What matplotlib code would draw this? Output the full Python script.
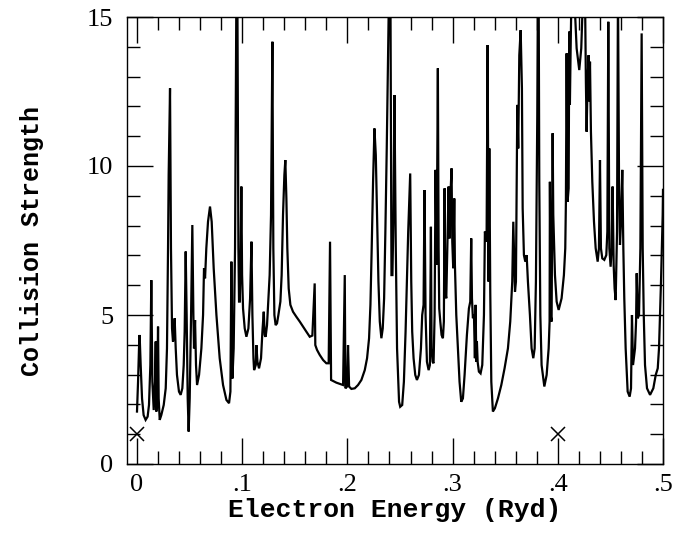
import matplotlib
matplotlib.use("Agg")
import matplotlib.pyplot as plt
from matplotlib.ticker import MultipleLocator, FixedLocator, FixedFormatter

energy = [
    0.0000, 0.0010, 0.0019, 0.0025, 0.0035, 0.0048, 0.0063, 0.0082, 0.0101, 0.0114,
    0.0127, 0.0136, 0.0146, 0.0159, 0.0171, 0.0178, 0.0184, 0.0193, 0.0200, 0.0206,
    0.0216, 0.0231, 0.0254, 0.0273, 0.0285, 0.0295, 0.0301, 0.0314, 0.0323, 0.0333,
    0.0342, 0.0352, 0.0358, 0.0368, 0.0380, 0.0399, 0.0415, 0.0431, 0.0444, 0.0453,
    0.0463, 0.0472, 0.0482, 0.0491, 0.0501, 0.0514, 0.0526, 0.0536, 0.0542, 0.0552,
    0.0561, 0.0571, 0.0590, 0.0612, 0.0628, 0.0637, 0.0647, 0.0659, 0.0675, 0.0694,
    0.0710, 0.0729, 0.0755, 0.0786, 0.0818, 0.0850, 0.0875, 0.0888, 0.0897, 0.0904,
    0.0907, 0.0919, 0.0932, 0.0945, 0.0954, 0.0964, 0.0970, 0.0977, 0.0986, 0.0992,
    0.0999, 0.1008, 0.1024, 0.1040, 0.1059, 0.1075, 0.1088, 0.1097, 0.1107, 0.1113,
    0.1129, 0.1135, 0.1145, 0.1160, 0.1179, 0.1192, 0.1205,
    0.1214, 0.1223, 0.1236, 0.1249, 0.1261, 0.1274, 0.1287, 0.1296, 0.1306, 0.1318,
    0.1331, 0.1344, 0.1363, 0.1375, 0.1388, 0.1401, 0.1410, 0.1420, 0.1429, 0.1442,
    0.1458, 0.1483, 0.1515, 0.1547, 0.1578, 0.1610, 0.1642, 0.1667, 0.1689, 0.1695,
    0.1711, 0.1737, 0.1769, 0.1800, 0.1822, 0.1835, 0.1845, 0.1895, 0.1959, 0.1975,
    0.1981, 0.1997, 0.2006, 0.2016, 0.2038, 0.2070, 0.2101, 0.2133, 0.2165, 0.2187,
    0.2206, 0.2219, 0.2231, 0.2244, 0.2257, 0.2270, 0.2282, 0.2295, 0.2308, 0.2323,
    0.2336, 0.2349, 0.2361, 0.2374, 0.2387, 0.2396, 0.2409, 0.2419, 0.2428, 0.2438,
    0.2447, 0.2460, 0.2472, 0.2491,
    0.2502, 0.2521, 0.2537, 0.2553, 0.2565, 0.2578, 0.2588, 0.2597, 0.2607, 0.2616,
    0.2629, 0.2645, 0.2661, 0.2680, 0.2699, 0.2711, 0.2724, 0.2733, 0.2743, 0.2756,
    0.2772, 0.2784, 0.2794, 0.2800, 0.2810, 0.2819, 0.2829, 0.2838, 0.2848, 0.2854,
    0.2860, 0.2867, 0.2873, 0.2883, 0.2895, 0.2908, 0.2917, 0.2924, 0.2930, 0.2940,
    0.2952, 0.2962, 0.2971, 0.2981, 0.2990, 0.2997, 0.3006, 0.3016, 0.3022, 0.3035,
    0.3051, 0.3066, 0.3082, 0.3098, 0.3114, 0.3136, 0.3155, 0.3168, 0.3177, 0.3184,
    0.3193, 0.3203, 0.3212, 0.3219, 0.3225, 0.3231, 0.3238, 0.3250, 0.3266, 0.3282,
    0.3298, 0.3307, 0.3323, 0.3333, 0.3342, 0.3349, 0.3358, 0.3368, 0.3383, 0.3402,
    0.3431, 0.3463, 0.3494, 0.3526, 0.3548, 0.3567,
    0.3577, 0.3593, 0.3602, 0.3615, 0.3624, 0.3634, 0.3647, 0.3659, 0.3666, 0.3678,
    0.3691, 0.3704, 0.3716, 0.3735, 0.3751, 0.3767, 0.3780, 0.3792, 0.3805, 0.3811,
    0.3818, 0.3824, 0.3834, 0.3846, 0.3872, 0.3894, 0.3913, 0.3922, 0.3925, 0.3932,
    0.3941, 0.3951, 0.3957, 0.3973, 0.3989, 0.4008, 0.4036, 0.4058, 0.4071, 0.4077,
    0.4084, 0.4093, 0.4103, 0.4109, 0.4115, 0.4122, 0.4131, 0.4153, 0.4179, 0.4204,
    0.4223, 0.4242, 0.4258, 0.4267, 0.4274, 0.4283, 0.4293, 0.4299,
    0.4306, 0.4315, 0.4328, 0.4344, 0.4360, 0.4379, 0.4391, 0.4401, 0.4410, 0.4423,
    0.4442, 0.4461, 0.4471, 0.4480, 0.4490, 0.4502, 0.4512, 0.4521, 0.4531, 0.4540,
    0.4550, 0.4563, 0.4572, 0.4582, 0.4591, 0.4601, 0.4613, 0.4623, 0.4632, 0.4645,
    0.4664, 0.4683, 0.4696, 0.4705, 0.4715, 0.4734, 0.4744, 0.4750, 0.4760, 0.4772,
    0.4785, 0.4797, 0.4807, 0.4817, 0.4829, 0.4848, 0.4877, 0.4908, 0.4931, 0.4950,
    0.4962, 0.4981, 0.4997, 0.5000,
]

strength = [
    1.76, 2.76, 3.88, 4.33, 3.32, 2.20, 1.64, 1.48, 1.59, 1.98,
    3.32, 6.17, 2.76, 1.81, 2.76, 4.11, 1.76, 2.76, 4.61, 2.20,
    1.48, 1.64, 1.98, 2.54, 3.88, 7.24, 9.70, 12.61, 7.24, 4.55,
    4.11, 4.33, 4.89, 3.88, 2.99, 2.43, 2.32, 2.54, 3.32, 4.44,
    7.13, 5.00, 2.20, 1.09, 2.20, 5.00, 8.02, 5.00, 3.88, 4.83,
    3.32, 2.65, 2.99, 3.88, 5.00, 6.57, 6.23, 7.24, 8.13, 8.64,
    8.13, 6.57, 5.00, 3.55, 2.65, 2.15, 2.04, 2.43, 6.79, 3.88,
    2.87, 3.88, 7.24, 16.0, 16.0, 7.24, 5.45, 5.45, 7.24, 9.31,
    6.34, 5.22, 4.55, 4.27, 4.55, 5.56, 7.46, 5.00, 3.55, 3.15,
    3.32, 3.99, 3.43, 3.21, 3.55, 4.44, 5.11,
    4.33, 4.27, 4.66, 5.56, 6.34, 8.36, 14.17, 7.24, 5.00, 4.66,
    4.72, 5.00, 5.45, 6.34, 8.36, 9.70, 10.20, 8.92, 7.24, 5.89,
    5.34, 5.11, 4.94, 4.78, 4.61, 4.44, 4.27, 4.31, 6.06, 3.99,
    3.83, 3.66, 3.49, 3.38, 3.38, 7.46, 2.82, 2.73, 2.65, 6.34,
    2.54, 2.60, 3.99, 2.60, 2.52, 2.54, 2.65, 2.82, 3.15, 3.55,
    4.22, 5.34, 7.24, 9.47, 11.26, 10.37, 8.36, 6.12, 4.78, 4.22,
    4.55, 5.56, 7.80, 10.59, 13.95, 16.0, 16.0, 6.34, 6.34, 8.36,
    12.38, 7.24, 3.88, 2.09,
    1.92, 1.98, 2.76, 4.44, 6.12, 7.80, 8.80, 9.75, 6.12, 4.44,
    3.55, 2.99, 2.82, 2.99, 3.88, 5.00, 5.34, 9.19, 5.00, 3.43,
    3.15, 3.32, 7.96, 3.88, 3.43, 3.38, 5.00, 9.87, 6.68, 9.92,
    13.28, 7.24, 5.22, 4.78, 4.33, 4.22, 4.78, 9.25, 5.78, 5.56,
    7.68, 9.31, 7.57, 9.14, 9.92, 7.46, 6.57, 8.91, 6.68, 5.00,
    3.88, 2.76, 2.09, 2.20, 2.99, 4.33, 5.22, 5.45, 7.57, 5.56,
    4.89, 5.00, 3.55, 5.34, 3.43, 4.11, 3.43, 3.10, 3.04, 3.32,
    5.00, 7.80, 7.46, 14.06, 6.12, 10.59, 5.78, 2.76, 1.76, 1.87,
    2.20, 2.65, 3.21, 3.88, 4.78, 6.12,
    8.13, 5.78, 6.12, 12.05, 10.59, 13.72, 14.56, 12.61, 8.58, 7.01,
    6.79, 7.01, 6.12, 5.00, 3.88, 3.55, 3.88, 6.12, 11.71, 16.0,
    16.0, 9.47, 5.00, 3.32, 2.60, 2.99, 3.88, 4.78, 9.47, 5.00,
    4.78, 11.10, 8.36, 6.34, 5.45, 5.17, 5.56, 6.34, 7.24, 8.80,
    13.78, 8.80, 9.25, 14.51, 12.05, 13.95, 16.0, 16.0, 13.95, 13.22,
    13.95, 16.0, 16.0, 12.83, 11.15, 12.83, 13.72, 12.17,
    13.50, 11.15, 9.47, 8.13, 7.24, 6.79, 7.24, 10.20, 7.24, 6.90,
    6.85, 7.01, 7.80, 14.84, 7.24, 6.62, 7.24, 9.31, 6.68, 5.89,
    5.50, 7.80, 16.0, 9.47, 7.35, 8.13, 9.87, 7.24, 5.56, 3.88,
    2.43, 2.26, 2.54, 5.00, 3.32, 3.88, 4.78, 6.40, 4.89, 5.00,
    7.24, 14.45, 7.24, 5.00, 3.32, 2.54, 2.32, 2.54, 2.99, 3.21,
    3.88, 6.12, 8.36, 9.20,
]

marker_energy = [0.0, 0.4]
marker_strength = [1.0, 1.0]

x_major = [0.0, 0.1, 0.2, 0.3, 0.4, 0.5]
x_labels = ["0", ".1", ".2", ".3", ".4", ".5"]
y_major = [0, 5, 10, 15]
y_labels = ["0", "5", "10", "15"]

fig = plt.figure(figsize=(6.89, 5.37), dpi=100)
ax = fig.add_axes([127/689, 1 - 464/537, 536/689, 447/537])

ax.plot(energy, strength, color="black", lw=1.6, solid_joinstyle="miter")
ax.plot(marker_energy, marker_strength, linestyle="none", marker="x",
        color="black", markersize=10, mew=1.1)

ax.set_xlim(-0.0095, 0.5)
ax.set_ylim(0, 15)

ax.xaxis.set_major_locator(FixedLocator(x_major))
ax.xaxis.set_major_formatter(FixedFormatter(x_labels))
ax.xaxis.set_minor_locator(MultipleLocator(0.02))
ax.yaxis.set_major_locator(FixedLocator(y_major))
ax.yaxis.set_major_formatter(FixedFormatter(y_labels))
ax.yaxis.set_minor_locator(MultipleLocator(1))

ax.tick_params(which="both", direction="in", top=True, right=True,
               width=1.0, color="black")
ax.tick_params(which="major", length=19, labelsize=19, pad=7)
ax.tick_params(which="minor", length=9.5)
ax.tick_params(axis="y", which="major", pad=10)
for lab in ax.get_xticklabels() + ax.get_yticklabels():
    lab.set_family("Liberation Serif")

for s in ax.spines.values():
    s.set_linewidth(1.0)

ax.set_xlabel("Electron Energy (Ryd)", family="Liberation Mono",
              weight="bold", fontsize=19)
ax.set_ylabel("Collision Strength", family="Liberation Mono",
              weight="bold", fontsize=18)
ax.xaxis.set_label_coords(0.5, -0.075)
ax.yaxis.set_label_coords(-0.155, 0.5)

fig.savefig("out.png", dpi=100)
